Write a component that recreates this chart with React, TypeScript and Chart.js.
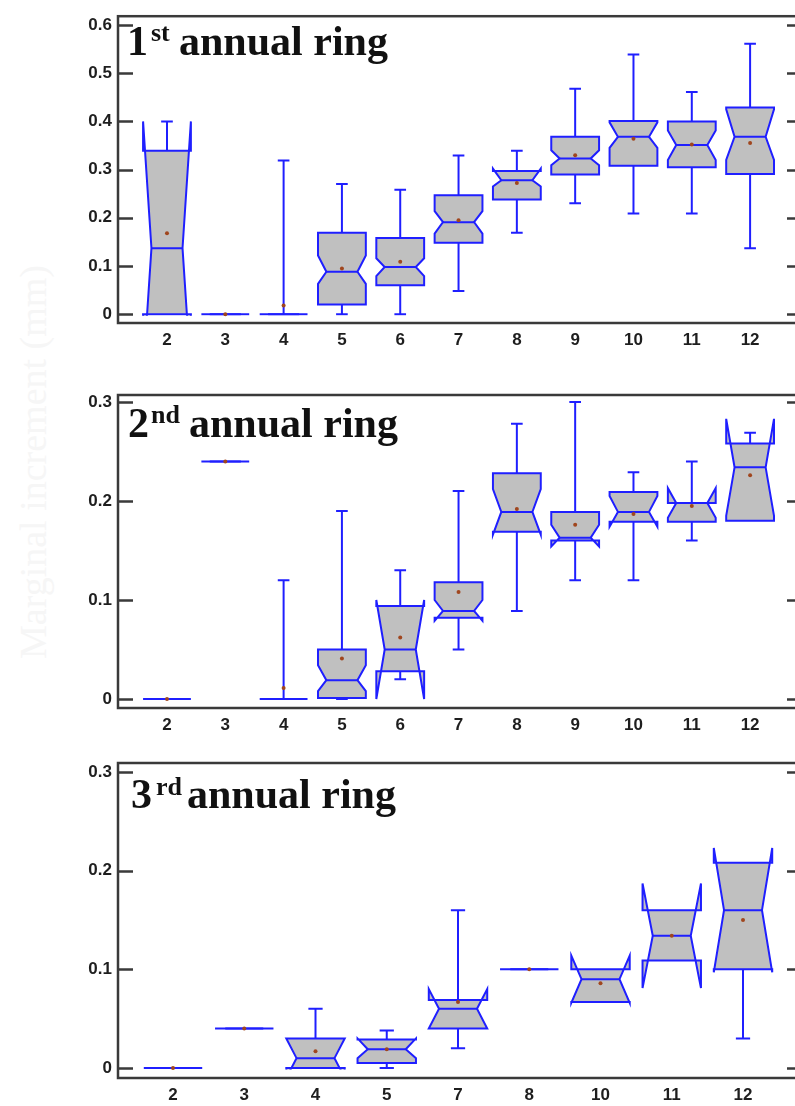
import React, { useEffect, useRef } from "react";
import { Chart, registerables } from "chart.js";

Chart.register(...registerables);

// ---------------- data ----------------
// Panel 1: 1st annual ring
const CATS_1 = ["2", "3", "4", "5", "6", "7", "8", "9", "10", "11", "12"];
const MIN_1 = [0, 0, 0, 0, 0, 0.048, 0.169, 0.23, 0.209, 0.209, 0.137];
const Q1_1 = [0, 0, 0, 0.02, 0.06, 0.148, 0.238, 0.29, 0.308, 0.305, 0.291];
const MED_1 = [0.137, 0, 0, 0.088, 0.098, 0.191, 0.278, 0.323, 0.368, 0.351, 0.368];
const Q3_1 = [0.339, 0, 0, 0.169, 0.158, 0.247, 0.297, 0.368, 0.401, 0.4, 0.429];
const MAX_1 = [0.4, 0, 0.319, 0.27, 0.258, 0.329, 0.339, 0.468, 0.539, 0.461, 0.561];
const MEAN_1 = [0.168, 0, 0.018, 0.095, 0.109, 0.195, 0.272, 0.33, 0.364, 0.352, 0.355];
const NLO_1 = [-0.126, 0, 0, 0.063, 0.079, 0.167, 0.265, 0.309, 0.345, 0.32, 0.32];
const NHI_1 = [0.4, 0, 0, 0.122, 0.116, 0.214, 0.302, 0.34, 0.398, 0.381, 0.425];

// Panel 2: 2nd annual ring
const CATS_2 = ["2", "3", "4", "5", "6", "7", "8", "9", "10", "11", "12"];
const MIN_2 = [0, 0.24, 0, 0, 0.02, 0.05, 0.089, 0.12, 0.12, 0.16, 0.18];
const Q1_2 = [0, 0.24, 0, 0.001, 0.028, 0.082, 0.169, 0.16, 0.179, 0.179, 0.18];
const MED_2 = [0, 0.24, 0, 0.019, 0.05, 0.089, 0.189, 0.163, 0.189, 0.198, 0.234];
const Q3_2 = [0, 0.24, 0, 0.05, 0.094, 0.118, 0.228, 0.189, 0.209, 0.198, 0.258];
const MAX_2 = [0, 0.24, 0.12, 0.19, 0.13, 0.21, 0.278, 0.3, 0.229, 0.24, 0.269];
const MEAN_2 = [0, 0.24, 0.011, 0.041, 0.062, 0.108, 0.192, 0.176, 0.187, 0.195, 0.226];
const NLO_2 = [0, 0.24, 0, 0.008, 0.0, 0.079, 0.166, 0.154, 0.174, 0.183, 0.185];
const NHI_2 = [0, 0.24, 0, 0.034, 0.1, 0.1, 0.212, 0.176, 0.205, 0.213, 0.283];

// Panel 3: 3rd annual ring
const CATS_3 = ["2", "3", "4", "5", "7", "8", "10", "11", "12"];
const MIN_3 = [0, 0.04, 0, 0, 0.02, 0.1, 0.067, 0.109, 0.03];
const Q1_3 = [0, 0.04, 0, 0.005, 0.04, 0.1, 0.067, 0.109, 0.1];
const MED_3 = [0, 0.04, 0.01, 0.019, 0.06, 0.1, 0.09, 0.134, 0.16];
const Q3_3 = [0, 0.04, 0.03, 0.029, 0.069, 0.1, 0.1, 0.16, 0.208];
const MAX_3 = [0, 0.04, 0.06, 0.038, 0.16, 0.1, 0.1, 0.16, 0.208];
const MEAN_3 = [0, 0.04, 0.017, 0.019, 0.067, 0.1, 0.086, 0.134, 0.15];
const NLO_3 = [0, 0.04, -0.01, 0.01, 0.04, 0.1, 0.066, 0.081, 0.097];
const NHI_3 = [0, 0.04, 0.03, 0.03, 0.08, 0.1, 0.114, 0.187, 0.223];

const Y_TICKS_1 = [0, 0.1, 0.2, 0.3, 0.4, 0.5, 0.6];
const Y_TICKS_2 = [0, 0.1, 0.2, 0.3];
const Y_TICKS_3 = [0, 0.1, 0.2, 0.3];

const Y_TITLE = "Marginal increment (mm)";

// ---------------- styling ----------------
const SANS = '"Liberation Sans", Arial, sans-serif';
const SERIF = '"Liberation Serif", "Times New Roman", serif';
const BLUE = "#1f1fff";
const BOX_FILL = "#c0c0c0";
const MEAN_COLOR = "#a0461e";
const FRAME = "#3a3a3a";
const HALF = 0.41;
const NOTCH = 0.65;
const CAP = 0.1;
const CANVAS_W = 810;

type PanelDef = {
  top: number;
  height: number;
  areaTop: number;
  areaBottom: number;
  yMin: number;
  yMax: number;
  xMin: number;
  xMax: number;
  yTicks: number[];
  cats: string[];
  min: number[];
  q1: number[];
  med: number[];
  q3: number[];
  max: number[];
  mean: number[];
  nlo: number[];
  nhi: number[];
  num: string;
  sup: string;
  numLeft: number;
  supLeft: number;
  restLeft: number;
  baseline: number;
};

const PANELS: PanelDef[] = [
  {
    top: 0, height: 360, areaTop: 10, areaBottom: 323,
    yMin: -0.0183, yMax: 0.6183, xMin: -0.84, xMax: 10.89, yTicks: Y_TICKS_1,
    cats: CATS_1, min: MIN_1, q1: Q1_1, med: MED_1, q3: Q3_1, max: MAX_1, mean: MEAN_1, nlo: NLO_1, nhi: NHI_1,
    num: "1", sup: "st", numLeft: 127, supLeft: 151, restLeft: 179, baseline: 55,
  },
  {
    top: 370, height: 370, areaTop: 25, areaBottom: 338,
    yMin: -0.0091, yMax: 0.3071, xMin: -0.84, xMax: 10.89, yTicks: Y_TICKS_2,
    cats: CATS_2, min: MIN_2, q1: Q1_2, med: MED_2, q3: Q3_2, max: MAX_2, mean: MEAN_2, nlo: NLO_2, nhi: NHI_2,
    num: "2", sup: "nd", numLeft: 128, supLeft: 151, restLeft: 189, baseline: 66.7,
  },
  {
    top: 740, height: 366, areaTop: 23, areaBottom: 338,
    yMin: -0.0101, yMax: 0.3091, xMin: -0.772, xMax: 8.828, yTicks: Y_TICKS_3,
    cats: CATS_3, min: MIN_3, q1: Q1_3, med: MED_3, q3: Q3_3, max: MAX_3, mean: MEAN_3, nlo: NLO_3, nhi: NHI_3,
    num: "3", sup: "rd", numLeft: 131, supLeft: 156, restLeft: 187, baseline: 68.3,
  },
];

function makePlugin(p: PanelDef) {
  return {
    id: "notchedBoxes",
    beforeDatasetsDraw(chart: any) {
      const { ctx, chartArea: a } = chart;
      const xs = chart.scales.x;
      const ys = chart.scales.y;
      const y0 = ys.getPixelForValue(0);
      ctx.save();
      ctx.beginPath();
      ctx.rect(a.left, a.top, a.right - a.left, y0 + 1.5 - a.top);
      ctx.clip();
      ctx.strokeStyle = BLUE;
      ctx.lineWidth = 2;
      ctx.lineJoin = "miter";
      for (let i = 0; i < p.cats.length; i++) {
        const cx = xs.getPixelForValue(i);
        const hw = xs.getPixelForValue(i + HALF) - cx;
        const cw = xs.getPixelForValue(i + CAP) - cx;
        const Y = (v: number) => ys.getPixelForValue(v);
        // whiskers
        ctx.beginPath();
        if (p.max[i] > p.q3[i]) {
          ctx.moveTo(cx, Y(p.q3[i]));
          ctx.lineTo(cx, Y(p.max[i]));
          ctx.moveTo(cx - cw, Y(p.max[i]));
          ctx.lineTo(cx + cw, Y(p.max[i]));
        }
        if (p.min[i] < p.q1[i]) {
          ctx.moveTo(cx, Y(p.q1[i]));
          ctx.lineTo(cx, Y(p.min[i]));
          ctx.moveTo(cx - cw, Y(p.min[i]));
          ctx.lineTo(cx + cw, Y(p.min[i]));
        }
        ctx.stroke();
        // notched box
        const pts: [number, number][] = [
          [-1, p.q1[i]], [1, p.q1[i]], [1, p.nlo[i]], [NOTCH, p.med[i]], [1, p.nhi[i]],
          [1, p.q3[i]], [-1, p.q3[i]], [-1, p.nhi[i]], [-NOTCH, p.med[i]], [-1, p.nlo[i]],
        ];
        ctx.beginPath();
        pts.forEach(([dx, v], k) => {
          const px = cx + dx * hw;
          const py = Y(v);
          if (k === 0) ctx.moveTo(px, py);
          else ctx.lineTo(px, py);
        });
        ctx.closePath();
        ctx.fillStyle = BOX_FILL;
        ctx.fill();
        ctx.stroke();
        // median
        ctx.beginPath();
        ctx.moveTo(cx - NOTCH * hw, Y(p.med[i]));
        ctx.lineTo(cx + NOTCH * hw, Y(p.med[i]));
        ctx.stroke();
      }
      ctx.restore();
    },
    afterDraw(chart: any) {
      const { ctx, chartArea: a } = chart;
      const ys = chart.scales.y;
      ctx.save();
      ctx.strokeStyle = FRAME;
      ctx.lineWidth = 2.5;
      ctx.beginPath();
      ys.ticks.forEach((t: any) => {
        const py = Math.round(ys.getPixelForValue(t.value)) + 0.5;
        ctx.moveTo(a.left, py);
        ctx.lineTo(a.left + 15, py);
        ctx.moveTo(a.right - 15, py);
        ctx.lineTo(a.right, py);
      });
      ctx.stroke();
      ctx.strokeRect(a.left, a.top, a.right - a.left, a.bottom - a.top);
      ctx.restore();
    },
  };
}

function PanelChart({ p }: { p: PanelDef }) {
  const ref = useRef<HTMLCanvasElement | null>(null);
  useEffect(() => {
    if (!ref.current) return;
    const chart = new Chart(ref.current, {
      type: "scatter",
      data: {
        datasets: [
          {
            data: p.mean.map((m, i) => ({ x: i, y: m })),
            pointRadius: 2,
            pointHoverRadius: 2,
            pointBackgroundColor: MEAN_COLOR,
            pointBorderWidth: 0,
            showLine: false,
          },
        ],
      },
      options: {
        animation: false,
        responsive: false,
        events: [],
        layout: { padding: { top: p.areaTop, right: CANVAS_W - 802, left: 0, bottom: 0 } },
        plugins: { legend: { display: false }, tooltip: { enabled: false } },
        scales: {
          x: {
            type: "linear",
            min: p.xMin,
            max: p.xMax,
            grid: { display: false, drawTicks: false },
            border: { display: false },
            afterFit: (s: any) => {
              s.height = p.height - p.areaBottom;
            },
            ticks: {
              stepSize: 1,
              includeBounds: false,
              autoSkip: false,
              maxRotation: 0,
              padding: 7,
              color: "#1e1e1e",
              font: { family: SANS, size: 17, weight: "bold" },
              callback: (v: any) => {
                const n = Number(v);
                return Number.isInteger(n) && n >= 0 && n < p.cats.length ? p.cats[n] : "";
              },
            },
          },
          y: {
            type: "linear",
            min: p.yMin,
            max: p.yMax,
            grid: { display: false, drawTicks: false },
            border: { display: false },
            afterFit: (s: any) => {
              s.width = 118;
            },
            afterBuildTicks: (s: any) => {
              s.ticks = p.yTicks.map((v) => ({ value: v }));
            },
            ticks: {
              padding: 6,
              color: "#1e1e1e",
              font: { family: SANS, size: 17, weight: "bold" },
              callback: (v: any) => {
                const n = Number(v);
                return Math.abs(n) < 1e-9 ? "0" : n.toFixed(1);
              },
            },
          },
        },
      },
      plugins: [makePlugin(p)],
    });
    return () => chart.destroy();
  }, [p]);

  const lift = (size: number) => size * 0.8375;
  const titleStyle = (size: number, left: number, base: number): React.CSSProperties => ({
    position: "absolute",
    left,
    top: base - lift(size),
    fontFamily: SERIF,
    fontWeight: "bold",
    fontSize: size,
    lineHeight: `${size}px`,
    color: "#111",
    whiteSpace: "nowrap",
  });

  return (
    <div style={{ position: "absolute", left: 0, top: p.top, width: CANVAS_W, height: p.height }}>
      <canvas ref={ref} width={CANVAS_W} height={p.height} style={{ display: "block", width: CANVAS_W, height: p.height }} />
      <span style={titleStyle(42, p.numLeft, p.baseline)}>{p.num}</span>
      <span style={titleStyle(26, p.supLeft, p.baseline - 13)}>{p.sup}</span>
      <span style={titleStyle(42, p.restLeft, p.baseline)}>annual ring</span>
    </div>
  );
}

export default function App() {
  return (
    <div
      style={{
        position: "fixed",
        left: 0,
        top: 0,
        width: 795,
        height: 1106,
        overflow: "hidden",
        background: "#ffffff",
      }}
    >
      <div
        style={{
          position: "absolute",
          left: 33,
          top: 462,
          transform: "translate(-50%, -50%) rotate(-90deg)",
          fontFamily: SERIF,
          fontSize: 38,
          lineHeight: "38px",
          color: "#f6f6f6",
          whiteSpace: "nowrap",
        }}
      >
        {Y_TITLE}
      </div>
      {PANELS.map((p, k) => (
        <PanelChart key={k} p={p} />
      ))}
    </div>
  );
}
